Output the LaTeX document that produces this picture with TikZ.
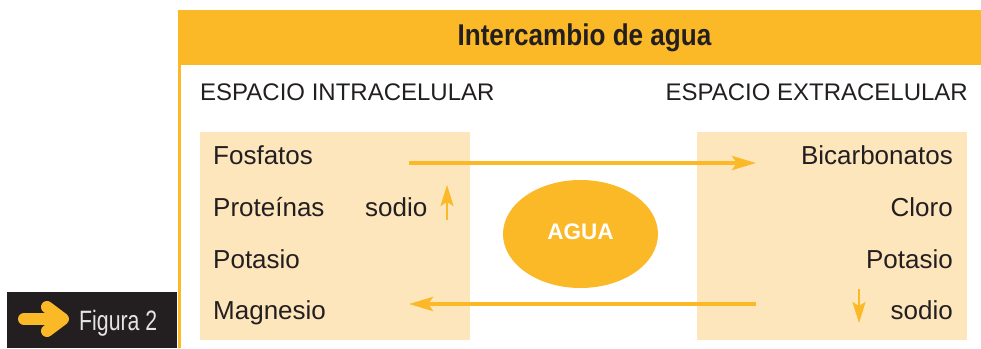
\documentclass[tikz,border=0pt]{standalone}
\usepackage{fontspec}
\setmainfont{Liberation Sans}
\newfontfamily\condb[FakeStretch=0.87]{Liberation Sans}
\newfontfamily\condl[FakeStretch=0.76]{Liberation Sans}
\usetikzlibrary{arrows.meta}
\definecolor{gold}{RGB}{251,184,39}
\definecolor{pale}{RGB}{253,229,188}
\definecolor{ink}{RGB}{35,31,32}
\definecolor{darkbg}{RGB}{35,31,32}
\definecolor{lightgray}{RGB}{228,228,228}
\tikzset{
  txt/.style={inner sep=0pt, text=ink, font=\fontsize{26}{26}\selectfont},
  head/.style={inner sep=0pt, text=ink, font=\fontsize{24}{24}\selectfont},
  flow/.style={draw=gold, line width=4pt, -{Stealth[length=24pt,width=14pt,inset=5pt]}},
  small/.style={draw=gold, line width=2pt, -{Stealth[length=21pt,width=13pt,inset=4pt]}},
}
\begin{document}
\begin{tikzpicture}[x=1pt,y=-1pt]
\useasboundingbox (0,0) rectangle (981,348);
% header
\fill[gold] (178,10) rectangle (981,65);
\fill[gold] (178,65) rectangle (181,348);
\node[inner sep=0pt, anchor=base, text=ink, font=\condb\fontsize{30}{30}\selectfont\bfseries] (title) at (584.5,45) {Intercambio de agua};
% figura box
\fill[darkbg] (7,292) rectangle (177,348);
\draw[gold, line width=12pt, line cap=round] (24,319) -- (62,319);
\draw[gold, line width=12pt, line cap=round, line join=round] (47,307) -- (63,319) -- (47,331);
\node[inner sep=0pt, anchor=base west, text=lightgray, font=\condl\fontsize{28}{28}\selectfont] (fig) at (79,330) {Figura 2};
% column headings
\node[head, anchor=base west] (hl) at (200,100) {ESPACIO INTRACELULAR};
\node[head, anchor=base east] (hr) at (968,100) {ESPACIO EXTRACELULAR};
% boxes
\fill[pale] (200,132) rectangle (470,340);
\fill[pale] (697,132) rectangle (967,340);
% left texts
\node[txt, anchor=base west] (l1) at (213,164) {Fosfatos};
\node[txt, anchor=base west] (l2) at (213,216) {Proteínas};
\node[txt, anchor=base west] (l3) at (213,268) {Potasio};
\node[txt, anchor=base west] (l4) at (213,319) {Magnesio};
\node[txt, anchor=base west] (ls) at (365,216) {sodio};
% right texts
\node[txt, anchor=base east] (r1) at (953,164) {Bicarbonatos};
\node[txt, anchor=base east] (r2) at (953,216) {Cloro};
\node[txt, anchor=base east] (r3) at (953,268) {Potasio};
\node[txt, anchor=base east] (r4) at (953,319) {sodio};
% ellipse
\fill[gold] (580.5,234) ellipse [x radius=77.5, y radius=54];
\node[inner sep=0pt, anchor=base, text=white, font=\fontsize{22.5}{22.5}\selectfont\bfseries] (agua) at (580.5,239) {AGUA};
% flow arrows
\coordinate (a1) at (409,163);
\coordinate (a2) at (756,163);
\coordinate (b1) at (756,304);
\coordinate (b2) at (409,304);
\draw[flow] (a1) -- (a2);
\draw[flow] (b1) -- (b2);
% small arrows
\coordinate (u1) at (447,220);
\coordinate (u2) at (447,185);
\coordinate (d1) at (859,289);
\coordinate (d2) at (859,323);
\draw[small] (u1) -- (u2);
\draw[small] (d1) -- (d2);
\end{tikzpicture}
\end{document}
